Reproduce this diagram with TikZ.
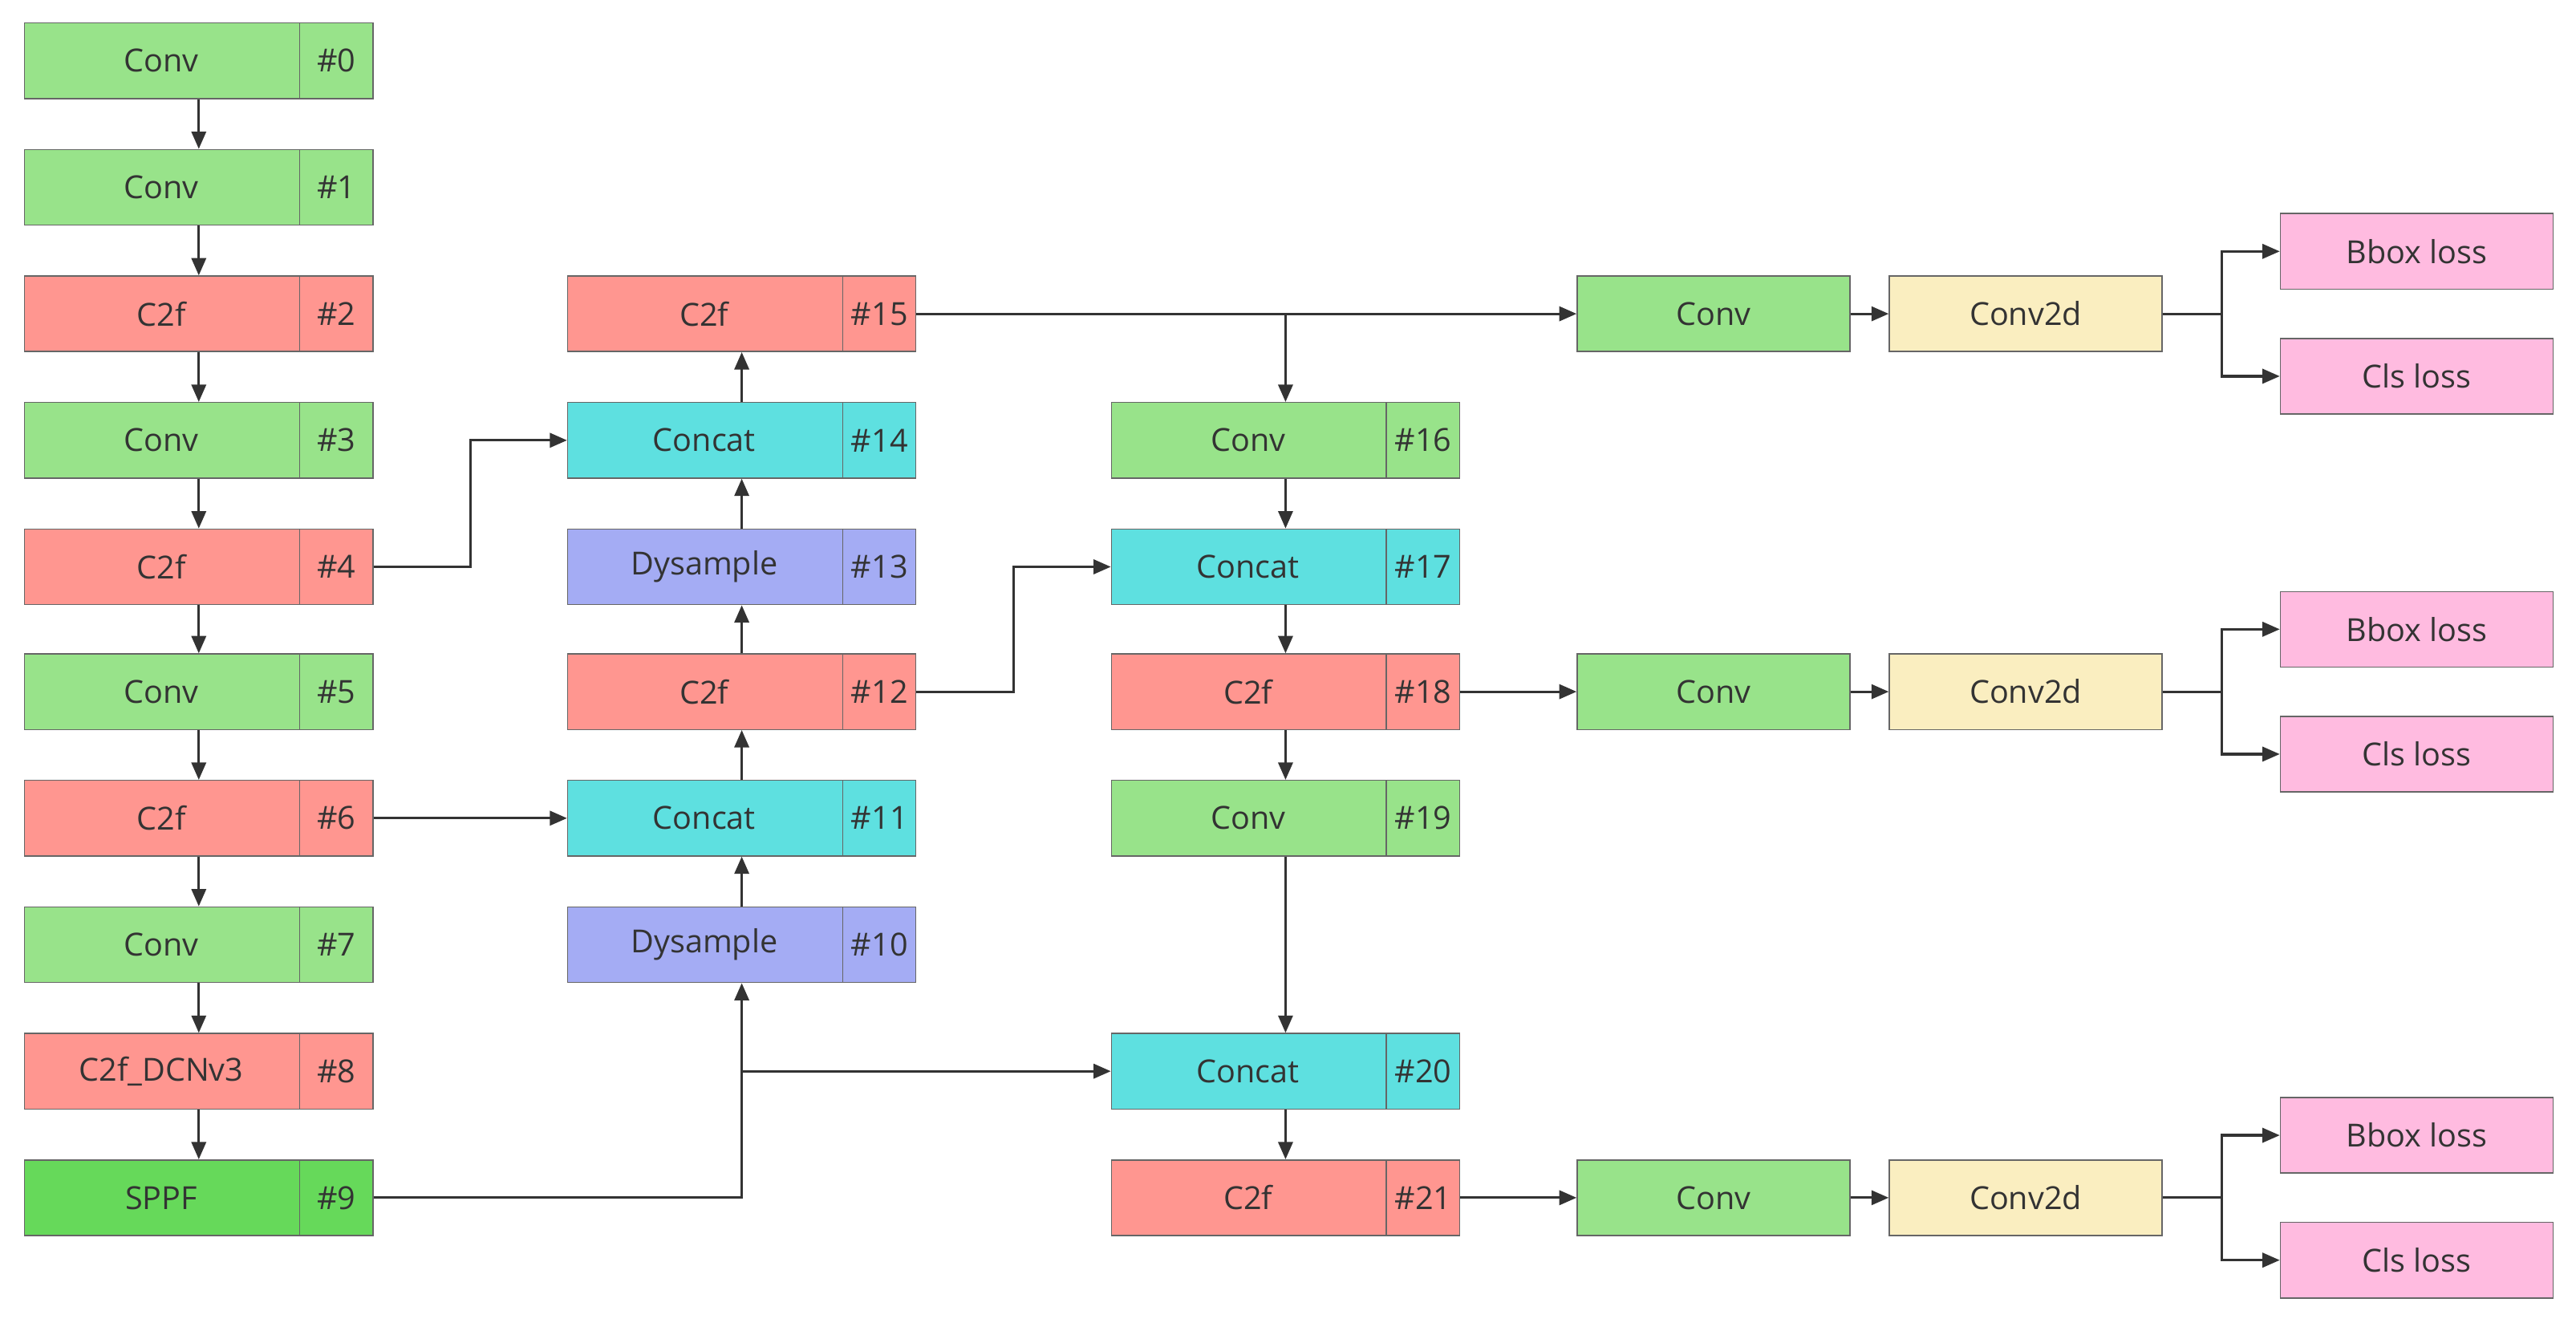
\documentclass[tikz,border=0pt]{standalone}
\usepackage{fontspec}
\setmainfont{Open Sans}
\usetikzlibrary{positioning,calc,arrows.meta}
\definecolor{cgreen}{HTML}{98E38A}
\definecolor{cdark}{HTML}{66D95A}
\definecolor{cred}{HTML}{FF9690}
\definecolor{ccyan}{HTML}{5EE0E0}
\definecolor{cblue}{HTML}{A4ACF4}
\definecolor{cyell}{HTML}{FAEEC0}
\definecolor{cpink}{HTML}{FFBBE0}
\definecolor{cline}{HTML}{333333}
\tikzset{
  blk/.style={draw=gray!80!black, minimum width=4.24cm, minimum height=0.92cm, inner sep=0pt},
  head/.style={draw=gray!80!black, minimum width=3.32cm, minimum height=0.92cm, inner sep=0pt},
  arr/.style={draw=cline, line width=0.9pt, -{Triangle[length=6pt,width=5pt]}},
  lnk/.style={draw=cline, line width=0.9pt}
}
% block with an index cell on its right
\newcommand{\blk}[6]{%
  \node[blk, fill=#6] (#1) at (#2,#3) {};
  \draw[gray!80!black] ([xshift=-0.9cm]#1.north east) -- ([xshift=-0.9cm]#1.south east);
  \node[text=cline] at ($(#1.west)+(1.67cm,0)$) {#4};
  \node[text=cline] at ($(#1.east)+(-0.45cm,0)$) {\##5};
}
\begin{document}
\begin{tikzpicture}[x=0.02cm, y=-0.02cm, font=\fontsize{11}{13}\selectfont]
\useasboundingbox (0,0) rectangle (1568,810);

% backbone
\blk{b0}{121}{37}{Conv}{0}{cgreen}
\blk{b1}{121}{114}{Conv}{1}{cgreen}
\blk{b2}{121}{191}{C2f}{2}{cred}
\blk{b3}{121}{268}{Conv}{3}{cgreen}
\blk{b4}{121}{345}{C2f}{4}{cred}
\blk{b5}{121}{421}{Conv}{5}{cgreen}
\blk{b6}{121}{498}{C2f}{6}{cred}
\blk{b7}{121}{575}{Conv}{7}{cgreen}
\blk{b8}{121}{652}{C2f\_DCNv3}{8}{cred}
\blk{b9}{121}{729}{SPPF}{9}{cdark}

% neck
\blk{b15}{451.5}{191}{C2f}{15}{cred}
\blk{b14}{451.5}{268}{Concat}{14}{ccyan}
\blk{b13}{451.5}{345}{Dysample}{13}{cblue}
\blk{b12}{451.5}{421}{C2f}{12}{cred}
\blk{b11}{451.5}{498}{Concat}{11}{ccyan}
\blk{b10}{451.5}{575}{Dysample}{10}{cblue}

\blk{b16}{782.5}{268}{Conv}{16}{cgreen}
\blk{b17}{782.5}{345}{Concat}{17}{ccyan}
\blk{b18}{782.5}{421}{C2f}{18}{cred}
\blk{b19}{782.5}{498}{Conv}{19}{cgreen}
\blk{b20}{782.5}{652}{Concat}{20}{ccyan}
\blk{b21}{782.5}{729}{C2f}{21}{cred}

% heads
\foreach \n/\y in {15/191, 18/421, 21/729}{
  \node[head, fill=cgreen, text=cline] (h\n) at (1043,\y) {Conv};
  \node[head, fill=cyell, text=cline] (d\n) at (1233,\y) {Conv2d};
  \node[head, fill=cpink, text=cline] (la\n) at (1471,\y-38) {Bbox loss};
  \node[head, fill=cpink, text=cline] (lb\n) at (1471,\y+38) {Cls loss};
  \coordinate (k\n) at ($(d\n.east)+(36,0)$);
  \draw[arr] (h\n) -- (d\n);
  \draw[lnk] (d\n.east) -- (k\n);
  \draw[arr] (k\n) |- (la\n);
  \draw[arr] (k\n) |- (lb\n);
}

% backbone links
\foreach \a/\b in {b0/b1, b1/b2, b2/b3, b3/b4, b4/b5, b5/b6, b6/b7, b7/b8, b8/b9}
  \draw[arr] (\a) -- (\b);

% neck links
\foreach \a/\b in {b10/b11, b11/b12, b12/b13, b13/b14, b14/b15,
                   b16/b17, b17/b18, b18/b19, b19/b20, b20/b21}
  \draw[arr] (\a) -- (\b);

\coordinate (j9) at (b10 |- b20);
\draw[arr] (b9) -| (b10);
\draw[arr] (j9) -- (b20);
\draw[arr] (b6) -- (b11);
\draw[arr] (b4.east) -| ($(b4.east)!.5!(b14.west)$) |- (b14.west);
\draw[arr] (b12.east) -| ($(b12.east)!.5!(b17.west)$) |- (b17.west);
\draw[arr] (b15) -- (h15);
\draw[arr] (b15 -| b16) -- (b16);
\draw[arr] (b18) -- (h18);
\draw[arr] (b21) -- (h21);
\end{tikzpicture}
\end{document}
